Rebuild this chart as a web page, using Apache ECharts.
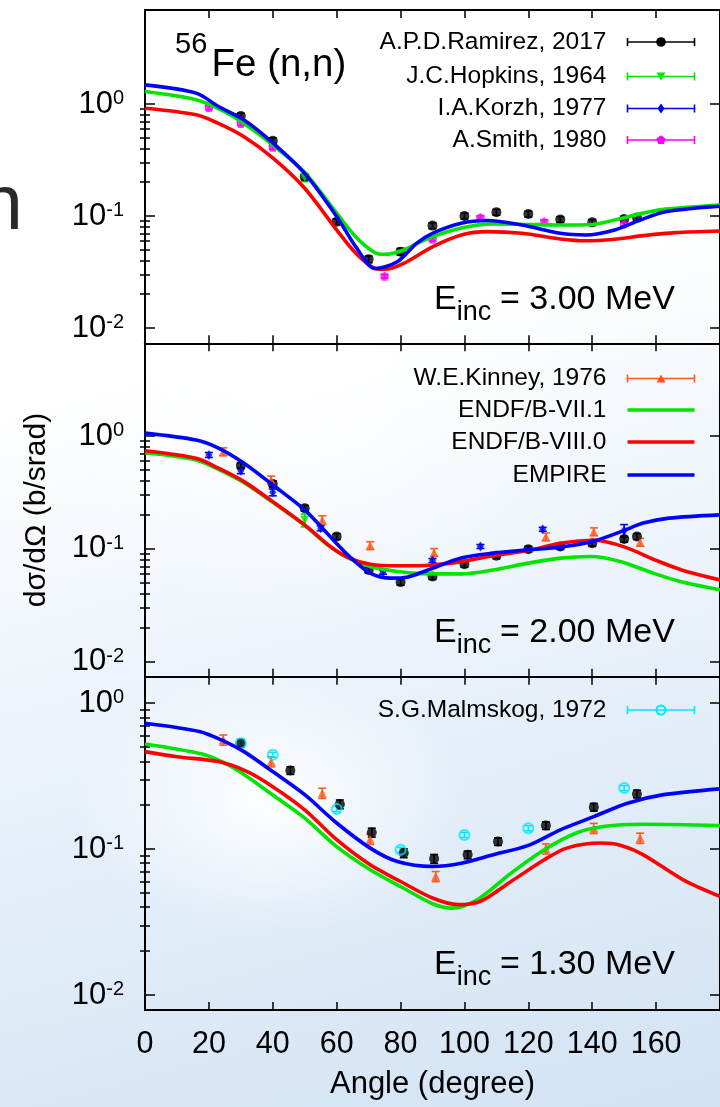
<!DOCTYPE html>
<html><head><meta charset="utf-8">
<script src="https://cdn.jsdelivr.net/npm/echarts@6/dist/echarts.min.js"></script>
<style>
html,body{margin:0;padding:0;width:720px;height:1107px;overflow:hidden;}
body{background:
 radial-gradient(ellipse 260px 180px at 270px 800px, rgba(255,255,255,0.95), rgba(255,255,255,0) 75%),
 radial-gradient(ellipse 360px 420px at 300px 300px, rgba(255,255,255,1), rgba(255,255,255,0) 80%),
 linear-gradient(165deg, #ffffff 0%, #ffffff 30%, #f1f6fc 50%, #e2edf8 72%, #d2e3f4 100%);}
#c{width:720px;height:1107px;}
</style></head><body><div id="c"></div><script>
// ---------- tick labels ----------
const xTickStep = 20;
const yMajorTicks = [0.01, 0.1, 1];
const yMinorTicks = [0.02,0.03,0.04,0.05,0.06,0.07,0.08,0.09,0.2,0.3,0.4,0.5,0.6,0.7,0.8,0.9];

// ---------- E = 3.00 MeV (top panel) : [angle, dsigma/dOmega] ----------
const vii1_300 = [[0,1.29],[16,1.09],[24,0.88],[31,0.67],[40,0.43],[50,0.245],[60,0.106],[66,0.065],[72,0.047],[75,0.0455],[81,0.0497],[88,0.062],[99,0.078],[109,0.085],[120,0.084],[130,0.083],[140,0.084],[149,0.095],[156,0.106],[163,0.115],[180,0.125]];
const viii0_300 = [[0,0.915],[16,0.80],[23,0.67],[31,0.51],[40,0.33],[50,0.177],[60,0.075],[66,0.0464],[72,0.034],[75,0.0334],[81,0.0378],[90,0.053],[99,0.0676],[107,0.0724],[118,0.070],[130,0.0623],[138,0.060],[147,0.062],[156,0.0667],[166,0.071],[180,0.0735]];
const empire_300 = [[0,1.48],[16,1.25],[23,0.95],[31,0.72],[40,0.45],[50,0.24],[60,0.099],[66,0.053],[72,0.034],[79,0.039],[85,0.057],[90,0.070],[99,0.086],[107,0.091],[118,0.083],[130,0.070],[138,0.0676],[147,0.075],[155,0.092],[163,0.109],[180,0.122]];
// experimental: [angle, value, relative error]
const ramirez_300 = [[30,0.78,0.06],[40,0.47,0.06],[50,0.224,0.06],[60,0.089,0.06],[70,0.041,0.07],[80,0.048,0.07],[90,0.082,0.06],[100,0.10,0.06],[110,0.108,0.06],[120,0.104,0.06],[130,0.093,0.06],[140,0.0877,0.06],[150,0.094,0.06],[154,0.097,0.06]];
const hopkins_300 = [[50,0.22,0.08]];
const smith_300 = [[20,0.93,0.04],[30,0.67,0.04],[40,0.41,0.04],[75,0.029,0.04],[90,0.062,0.04],[105,0.097,0.04],[125,0.089,0.04],[150,0.085,0.04]];

// ---------- E = 2.00 MeV (middle panel) ----------
const vii1_200 = [[0,0.71],[16,0.613],[23,0.505],[31,0.385],[40,0.258],[50,0.161],[58,0.104],[64,0.082],[70.5,0.0697],[79,0.063],[89,0.060],[99,0.060],[109,0.065],[120,0.0747],[130,0.0827],[139.5,0.0855],[149,0.077],[159,0.061],[167.5,0.0514],[180,0.0434]];
const viii0_200 = [[0,0.74],[16,0.634],[23,0.518],[31,0.394],[40,0.262],[50,0.163],[58,0.105],[64,0.0827],[70.5,0.073],[79,0.0707],[90,0.072],[99,0.077],[109,0.087],[120,0.0966],[130,0.112],[141,0.119],[150,0.104],[160,0.079],[168,0.065],[180,0.053]];
const empire_200 = [[0,1.06],[16,0.92],[23,0.78],[31,0.573],[40,0.368],[50,0.221],[58,0.128],[64,0.0855],[70.5,0.061],[77,0.055],[82,0.056],[88.6,0.065],[99,0.083],[109,0.0916],[120,0.098],[130,0.1035],[140,0.116],[149,0.142],[156,0.169],[164,0.187],[180,0.2]];
const ramirez_200 = [[30,0.546,0.06],[40,0.376,0.06],[50,0.229,0.06],[60,0.1285,0.06],[70,0.065,0.06],[80,0.0507,0.06],[90,0.0569,0.06],[100,0.073,0.06],[110,0.087,0.06],[120,0.0993,0.06],[130,0.105,0.06],[140,0.112,0.06],[150,0.122,0.06],[154,0.1285,0.06]];
const kinney_200 = [[24.5,0.726,0.08],[39.5,0.408,0.08],[55.5,0.18,0.09],[70.5,0.107,0.08],[90.5,0.093,0.08],[125.5,0.128,0.08],[140.5,0.142,0.08],[155,0.1146,0.08]];
const korzh_200 = [[20,0.679,0.05],[30,0.493,0.06],[40,0.317,0.07],[55,0.152,0.05],[74.5,0.062,0.04],[90,0.0788,0.04],[105,0.105,0.04],[124.5,0.149,0.04],[150,0.145,0.13]];
const hopkins_200 = [[50,0.18,0.13]];

// ---------- E = 1.30 MeV (bottom panel) ----------
const vii1_130 = [[0,0.526],[17.6,0.45],[25,0.388],[32,0.314],[40,0.235],[50,0.163],[60,0.104],[70.5,0.0722],[80,0.0554],[90,0.0422],[96,0.0394],[104,0.045],[114.6,0.0685],[125,0.099],[135,0.129],[143.5,0.143],[156,0.148],[180,0.145]];
const viii0_130 = [[0,0.466],[10,0.43],[23,0.398],[32,0.34],[40,0.268],[50,0.186],[60,0.116],[70.5,0.078],[80,0.06],[90,0.0462],[98,0.0416],[105,0.0438],[114.6,0.06],[125,0.0845],[132,0.1016],[142.6,0.11],[149,0.106],[156,0.0914],[168.5,0.0616],[180,0.0474]];
const empire_130 = [[0,0.73],[17,0.64],[25,0.546],[31,0.466],[40,0.34],[50,0.236],[60,0.151],[70.5,0.1016],[79,0.0822],[90,0.076],[99,0.080],[109,0.0914],[120,0.106],[130,0.1356],[140.5,0.167],[151,0.2065],[162,0.2355],[180,0.259]];
const ramirez_130 = [[30,0.532,0.06],[45.5,0.346,0.06],[61,0.203,0.07],[71,0.130,0.07],[81,0.094,0.07],[90.5,0.0858,0.07],[101,0.0914,0.06],[110.5,0.1127,0.06],[125.5,0.145,0.06],[140.5,0.194,0.06],[154,0.239,0.06]];
const kinney_130 = [[24.5,0.561,0.08],[39.5,0.398,0.08],[55.5,0.242,0.08],[70.5,0.117,0.08],[91,0.065,0.08],[125.5,0.1005,0.08],[140.5,0.139,0.08],[155,0.119,0.08]];
const malmskog_130 = [[30,0.532,0.04],[40,0.443,0.04],[60,0.188,0.04],[80,0.0989,0.04],[100,0.125,0.04],[120,0.139,0.04],[150,0.262,0.04]];

// ---------- styling ----------
const FONT = '"Liberation Sans", Arial, Helvetica, sans-serif';
const C_GREEN = '#00e400', C_RED = '#ff0000', C_BLUE = '#0000ff';
const PENTA = 'path://M0,-10L9.51,-3.09L5.88,8.09L-5.88,8.09L-9.51,-3.09Z';
const styles = {
  ramirez: {color:'#000000', symbol:'circle', size:10, label:'A.P.D.Ramirez, 2017'},
  hopkins: {color:'#00e400', symbol:'triangle', size:9, rotate:180, label:'J.C.Hopkins, 1964'},
  korzh:   {color:'#0000ff', symbol:'diamond', size:[7,10], label:'I.A.Korzh, 1977'},
  smith:   {color:'#ff00ff', symbol:PENTA, size:9, label:'A.Smith, 1980'},
  kinney:  {color:'#ff5a1e', symbol:'triangle', size:9, label:'W.E.Kinney, 1976'},
  malmskog:{color:'#00e8ff', symbol:'circle', size:10, open:true, label:'S.G.Malmskog, 1972'}
};

const panels = [
  {top:10,    height:333.3, ymin:Math.pow(10,-2.137), ymax:Math.pow(10,0.839)},
  {top:343.3, height:333.4, ymin:Math.pow(10,-2.133), ymax:Math.pow(10,0.821)},
  {top:676.7, height:333.3, ymin:Math.pow(10,-2.103), ymax:Math.pow(10,0.182)}
];
const GL = 145, GW = 578;

const grids = [], xAxes = [], yAxes = [], series = [];
const axisLineStyle = {color:'#000', width:2};
const tickStyle = {color:'#000', width:1.5};

panels.forEach((p, i) => {
  grids.push({left:GL, top:p.top, width:GW, height:p.height, containLabel:false});
  const isBottom = i === 2;
  xAxes.push({type:'value', gridIndex:i, min:0, max:180, interval:xTickStep, position:'bottom',
    axisLine:{show:true, onZero:false, lineStyle:axisLineStyle},
    axisTick:{show:true, inside:true, length:8, lineStyle:tickStyle},
    splitLine:{show:false},
    axisLabel:{show:isBottom, showMaxLabel:false, color:'#000', fontSize:30.5, fontFamily:FONT, margin:19},
    name: isBottom ? 'Angle (degree)' : '', nameLocation:'middle', nameGap:59,
    nameTextStyle:{color:'#000', fontSize:31, fontFamily:FONT}
  });
  xAxes.push({type:'value', gridIndex:i, min:0, max:180, interval:xTickStep, position:'top',
    axisLine:{show:true, onZero:false, lineStyle:axisLineStyle},
    axisTick:{show:true, inside:true, length:8, lineStyle:tickStyle},
    splitLine:{show:false}, axisLabel:{show:false}
  });
  const yBase = {type:'log', logBase:10, gridIndex:i, min:p.ymin, max:p.ymax, splitLine:{show:false}};
  // left major
  yAxes.push(Object.assign({}, yBase, {position:'left',
    axisLine:{show:true, onZero:false, lineStyle:axisLineStyle},
    axisTick:{show:true, inside:true, length:10, customValues:yMajorTicks, lineStyle:tickStyle},
    axisLabel:{show:true, customValues:yMajorTicks, margin:21,
      formatter: v => '{b|10}{s|' + Math.round(Math.log10(v)) + '}',
      rich:{ b:{fontSize:31, fontFamily:FONT, color:'#000', lineHeight:31, verticalAlign:'bottom'},
             s:{fontSize:20, fontFamily:FONT, color:'#000', lineHeight:20, verticalAlign:'top', padding:[0,0,18,0]} }},
    name: i === 1 ? 'dσ/dΩ (b/srad)' : '', nameLocation:'middle', nameRotate:90, nameGap:93,
    nameTextStyle:{color:'#000', fontSize:30, fontFamily:FONT}
  }));
  // left minor
  yAxes.push(Object.assign({}, yBase, {position:'left',
    axisLine:{show:false}, axisLabel:{show:false},
    axisTick:{show:true, inside:true, length:5, customValues:yMinorTicks, lineStyle:tickStyle}}));
  // right major
  yAxes.push(Object.assign({}, yBase, {position:'right',
    axisLine:{show:true, onZero:false, lineStyle:axisLineStyle}, axisLabel:{show:false},
    axisTick:{show:true, inside:true, length:10, customValues:yMajorTicks, lineStyle:tickStyle}}));
  // right minor
  yAxes.push(Object.assign({}, yBase, {position:'right',
    axisLine:{show:false}, axisLabel:{show:false},
    axisTick:{show:true, inside:true, length:5, customValues:yMinorTicks, lineStyle:tickStyle}}));
});

function addCurve(data, color, p) {
  series.push({type:'line', xAxisIndex:2*p, yAxisIndex:4*p, data:data, symbol:'none', smooth:0.3,
    lineStyle:{color:color, width:3.6}, z:5, silent:true});
}
function addData(data, st, p) {
  const col = st.color;
  series.push({type:'custom', xAxisIndex:2*p, yAxisIndex:4*p, z:3, silent:true,
    data: data.map(d => [d[0], d[1]*(1-d[2]), d[1]*(1+d[2])]),
    encode:{x:0, y:[1,2]},
    renderItem:(params, api) => {
      const lo = api.coord([api.value(0), api.value(1)]);
      const hi = api.coord([api.value(0), api.value(2)]);
      const w = 4, ls = {stroke:col, lineWidth:1.6};
      return {type:'group', children:[
        {type:'line', shape:{x1:lo[0], y1:lo[1], x2:hi[0], y2:hi[1]}, style:ls},
        {type:'line', shape:{x1:lo[0]-w, y1:lo[1], x2:lo[0]+w, y2:lo[1]}, style:ls},
        {type:'line', shape:{x1:hi[0]-w, y1:hi[1], x2:hi[0]+w, y2:hi[1]}, style:ls}
      ]};
    }});
  series.push({type:'scatter', xAxisIndex:2*p, yAxisIndex:4*p, z:4, silent:true,
    data: data.map(d => [d[0], d[1]]),
    symbol: st.symbol, symbolSize: st.size, symbolRotate: st.rotate || 0,
    itemStyle: st.open ? {color:'rgba(0,0,0,0)', borderColor:col, borderWidth:2} : {color:col}});
}

// panel 0 : 3.00 MeV
addData(ramirez_300, styles.ramirez, 0);
addData(hopkins_300, styles.hopkins, 0);
addData(smith_300, styles.smith, 0);
addCurve(viii0_300, C_RED, 0);
addCurve(vii1_300, C_GREEN, 0);
addCurve(empire_300, C_BLUE, 0);
// panel 1 : 2.00 MeV
addData(ramirez_200, styles.ramirez, 1);
addData(kinney_200, styles.kinney, 1);
addData(korzh_200, styles.korzh, 1);
addData(hopkins_200, styles.hopkins, 1);
addCurve(vii1_200, C_GREEN, 1);
addCurve(viii0_200, C_RED, 1);
addCurve(empire_200, C_BLUE, 1);
// panel 2 : 1.30 MeV
addData(ramirez_130, styles.ramirez, 2);
addData(kinney_130, styles.kinney, 2);
addData(malmskog_130, styles.malmskog, 2);
addCurve(vii1_130, C_GREEN, 2);
addCurve(viii0_130, C_RED, 2);
addCurve(empire_130, C_BLUE, 2);

// ---------- legends / annotations (graphic) ----------
const graphics = [];
function txt(str, x, baseline, size, align, color) {
  graphics.push({type:'text', x:x, y:baseline - 0.35*size, silent:true, z:20,
    style:{text:str, fontSize:size, fontFamily:FONT, fill:color || '#000', align:align || 'left', verticalAlign:'middle'}});
}
const LX_TEXT = 606.5, LX0 = 627.5, LX1 = 694.5, LXM = 661, LSIZE = 24.5;
function legendData(st, y) {
  txt(st.label, LX_TEXT, y + 8.6, LSIZE, 'right');
  const ls = {stroke:st.color, lineWidth:1.6};
  graphics.push({type:'line', silent:true, z:20, shape:{x1:LX0, y1:y, x2:LX1, y2:y}, style:ls});
  graphics.push({type:'line', silent:true, z:20, shape:{x1:LX0, y1:y-4, x2:LX0, y2:y+4}, style:ls});
  graphics.push({type:'line', silent:true, z:20, shape:{x1:LX1, y1:y-4, x2:LX1, y2:y+4}, style:ls});
  let m;
  if (st.symbol === 'circle' && !st.open) m = {type:'circle', shape:{cx:LXM, cy:y, r:4.8}, style:{fill:st.color}};
  else if (st.open) m = {type:'circle', shape:{cx:LXM, cy:y, r:4.5}, style:{fill:'rgba(0,0,0,0)', stroke:st.color, lineWidth:2}};
  else if (st.symbol === 'triangle' && st.rotate) m = {type:'polygon', shape:{points:[[LXM-4.5,y-4],[LXM+4.5,y-4],[LXM,y+4]]}, style:{fill:st.color}};
  else if (st.symbol === 'triangle') m = {type:'polygon', shape:{points:[[LXM-4.5,y+4],[LXM+4.5,y+4],[LXM,y-4]]}, style:{fill:st.color}};
  else if (st.symbol === 'diamond') m = {type:'polygon', shape:{points:[[LXM,y-5],[LXM+3.5,y],[LXM,y+5],[LXM-3.5,y]]}, style:{fill:st.color}};
  else m = {type:'polygon', shape:{points:[[LXM,y-4.8],[LXM+4.6,y-1.5],[LXM+2.8,y+3.9],[LXM-2.8,y+3.9],[LXM-4.6,y-1.5]]}, style:{fill:st.color}};
  m.silent = true; m.z = 21;
  graphics.push(m);
}
function legendLine(label, color, y) {
  txt(label, LX_TEXT, y + 8.6, LSIZE, 'right');
  graphics.push({type:'line', silent:true, z:20, shape:{x1:LX0, y1:y, x2:LX1, y2:y}, style:{stroke:color, lineWidth:3.6}});
}
legendData(styles.ramirez, 42);
legendData(styles.hopkins, 76.5);
legendData(styles.korzh, 108.5);
legendData(styles.smith, 140);
legendData(styles.kinney, 378.5);
legendLine('ENDF/B-VII.1', C_GREEN, 410);
legendLine('ENDF/B-VIII.0', C_RED, 442);
legendLine('EMPIRE', C_BLUE, 475);
legendData(styles.malmskog, 710);

// title
txt('56', 175, 55, 29, 'left');
txt('Fe (n,n)', 211.5, 79, 38.5, 'left');
// incident energies
[['3.00', 311.7], ['2.00', 645], ['1.30', 976.7]].forEach(([e, b]) => {
  txt('E', 434, b, 34, 'left');
  txt('inc', 456.7, b + 10, 27, 'left');
  txt('= ' + e + ' MeV', 500, b, 34, 'left');
});
// background slide fragment
txt('n', -20, 235, 77, 'left', '#2a2a2a');

const chart = echarts.init(document.getElementById('c'), null, {renderer:'canvas'});
chart.setOption({
  animation:false, backgroundColor:'transparent',
  grid:grids, xAxis:xAxes, yAxis:yAxes, series:series, graphic:graphics
});
</script></body></html>
